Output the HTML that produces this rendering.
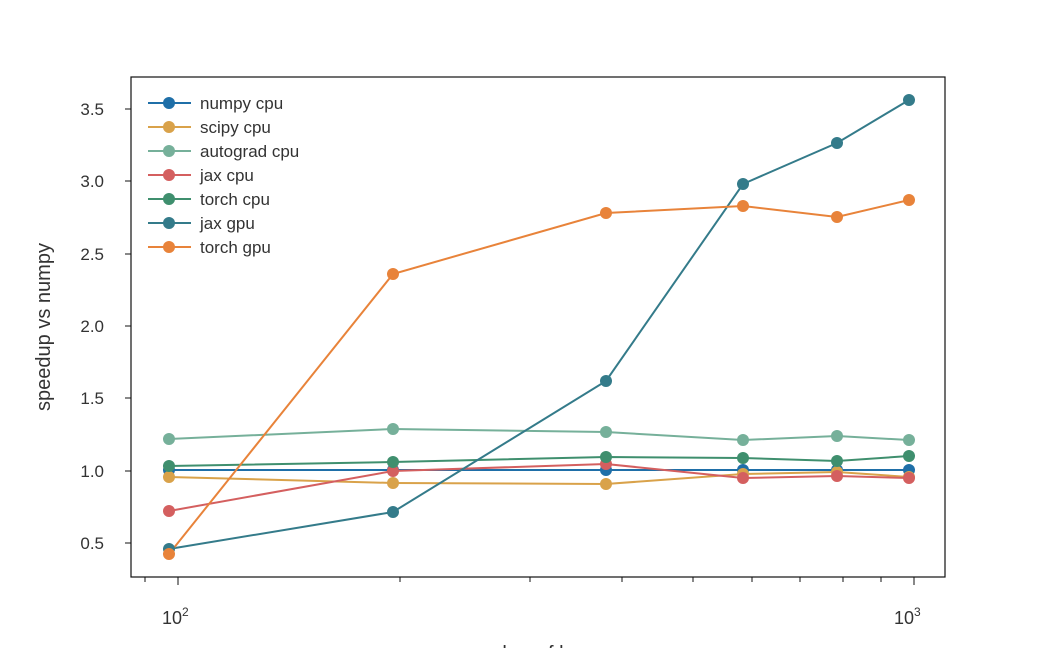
<!DOCTYPE html>
<html><head><style>body{margin:0;background:#fff}svg{display:block}text{font-family:"Liberation Sans",sans-serif;fill:#333}</style></head>
<body>
<svg width="1050" height="648" viewBox="0 0 1050 648">
<rect x="131" y="77" width="814" height="500" fill="none" stroke="#111" stroke-width="1.2"/>
<g stroke="#111" stroke-width="1">
<line x1="131" y1="543" x2="125" y2="543"/><line x1="131" y1="471" x2="125" y2="471"/><line x1="131" y1="398" x2="125" y2="398"/><line x1="131" y1="326" x2="125" y2="326"/><line x1="131" y1="254" x2="125" y2="254"/><line x1="131" y1="181" x2="125" y2="181"/><line x1="131" y1="109" x2="125" y2="109"/>
<line x1="178" y1="577" x2="178" y2="585"/><line x1="914" y1="577" x2="914" y2="585"/>
<line x1="145" y1="577" x2="145" y2="582"/><line x1="400" y1="577" x2="400" y2="582"/><line x1="530" y1="577" x2="530" y2="582"/><line x1="622" y1="577" x2="622" y2="582"/><line x1="693" y1="577" x2="693" y2="582"/><line x1="752" y1="577" x2="752" y2="582"/><line x1="800" y1="577" x2="800" y2="582"/><line x1="843" y1="577" x2="843" y2="582"/><line x1="881" y1="577" x2="881" y2="582"/>
</g>
<g font-size="17" text-anchor="end">
<text x="104" y="549">0.5</text><text x="104" y="477">1.0</text><text x="104" y="404">1.5</text><text x="104" y="332">2.0</text><text x="104" y="260">2.5</text><text x="104" y="187">3.0</text><text x="104" y="115">3.5</text>
</g>
<text x="162" y="624" font-size="18">10<tspan font-size="12" dy="-8">2</tspan></text>
<text x="894" y="624" font-size="18">10<tspan font-size="12" dy="-8">3</tspan></text>
<text transform="translate(50,327) rotate(-90)" font-size="20" text-anchor="middle">speedup vs numpy</text>
<text x="538" y="660" font-size="20" text-anchor="middle">number of layers</text>
<g fill="none" stroke-width="2">
<polyline stroke="#1f6fa8" points="169,470 393,470 606,470 743,470 837,470 909,470"/>
<polyline stroke="#d9a24a" points="169,477 393,483 606,484 743,474 837,472 909,477"/>
<polyline stroke="#76b09a" points="169,439 393,429 606,432 743,440 837,436 909,440"/>
<polyline stroke="#d45f5f" points="169,511 393,471 606,464 743,478 837,476 909,478"/>
<polyline stroke="#3f8f6e" points="169,466 393,462 606,457 743,458 837,461 909,456"/>
<polyline stroke="#347b8a" points="169,549 393,512 606,381 743,184 837,143 909,100"/>
<polyline stroke="#e8833a" points="169,554 393,274 606,213 743,206 837,217 909,200"/>
</g>
<g>
<g fill="#1f6fa8"><circle cx="169" cy="470" r="6"/><circle cx="393" cy="470" r="6"/><circle cx="606" cy="470" r="6"/><circle cx="743" cy="470" r="6"/><circle cx="837" cy="470" r="6"/><circle cx="909" cy="470" r="6"/></g>
<g fill="#d9a24a"><circle cx="169" cy="477" r="6"/><circle cx="393" cy="483" r="6"/><circle cx="606" cy="484" r="6"/><circle cx="743" cy="474" r="6"/><circle cx="837" cy="472" r="6"/><circle cx="909" cy="477" r="6"/></g>
<g fill="#76b09a"><circle cx="169" cy="439" r="6"/><circle cx="393" cy="429" r="6"/><circle cx="606" cy="432" r="6"/><circle cx="743" cy="440" r="6"/><circle cx="837" cy="436" r="6"/><circle cx="909" cy="440" r="6"/></g>
<g fill="#d45f5f"><circle cx="169" cy="511" r="6"/><circle cx="393" cy="471" r="6"/><circle cx="606" cy="464" r="6"/><circle cx="743" cy="478" r="6"/><circle cx="837" cy="476" r="6"/><circle cx="909" cy="478" r="6"/></g>
<g fill="#3f8f6e"><circle cx="169" cy="466" r="6"/><circle cx="393" cy="462" r="6"/><circle cx="606" cy="457" r="6"/><circle cx="743" cy="458" r="6"/><circle cx="837" cy="461" r="6"/><circle cx="909" cy="456" r="6"/></g>
<g fill="#347b8a"><circle cx="169" cy="549" r="6"/><circle cx="393" cy="512" r="6"/><circle cx="606" cy="381" r="6"/><circle cx="743" cy="184" r="6"/><circle cx="837" cy="143" r="6"/><circle cx="909" cy="100" r="6"/></g>
<g fill="#e8833a"><circle cx="169" cy="554" r="6"/><circle cx="393" cy="274" r="6"/><circle cx="606" cy="213" r="6"/><circle cx="743" cy="206" r="6"/><circle cx="837" cy="217" r="6"/><circle cx="909" cy="200" r="6"/></g>
</g>
<g font-size="17" stroke-width="2">
<line x1="148" y1="103" x2="191" y2="103" stroke="#1f6fa8"/><circle cx="169" cy="103" r="6" fill="#1f6fa8"/><text x="200" y="109">numpy cpu</text>
<line x1="148" y1="127" x2="191" y2="127" stroke="#d9a24a"/><circle cx="169" cy="127" r="6" fill="#d9a24a"/><text x="200" y="133">scipy cpu</text>
<line x1="148" y1="151" x2="191" y2="151" stroke="#76b09a"/><circle cx="169" cy="151" r="6" fill="#76b09a"/><text x="200" y="157">autograd cpu</text>
<line x1="148" y1="175" x2="191" y2="175" stroke="#d45f5f"/><circle cx="169" cy="175" r="6" fill="#d45f5f"/><text x="200" y="181">jax cpu</text>
<line x1="148" y1="199" x2="191" y2="199" stroke="#3f8f6e"/><circle cx="169" cy="199" r="6" fill="#3f8f6e"/><text x="200" y="205">torch cpu</text>
<line x1="148" y1="223" x2="191" y2="223" stroke="#347b8a"/><circle cx="169" cy="223" r="6" fill="#347b8a"/><text x="200" y="229">jax gpu</text>
<line x1="148" y1="247" x2="191" y2="247" stroke="#e8833a"/><circle cx="169" cy="247" r="6" fill="#e8833a"/><text x="200" y="253">torch gpu</text>
</g>
</svg>
</body></html>
